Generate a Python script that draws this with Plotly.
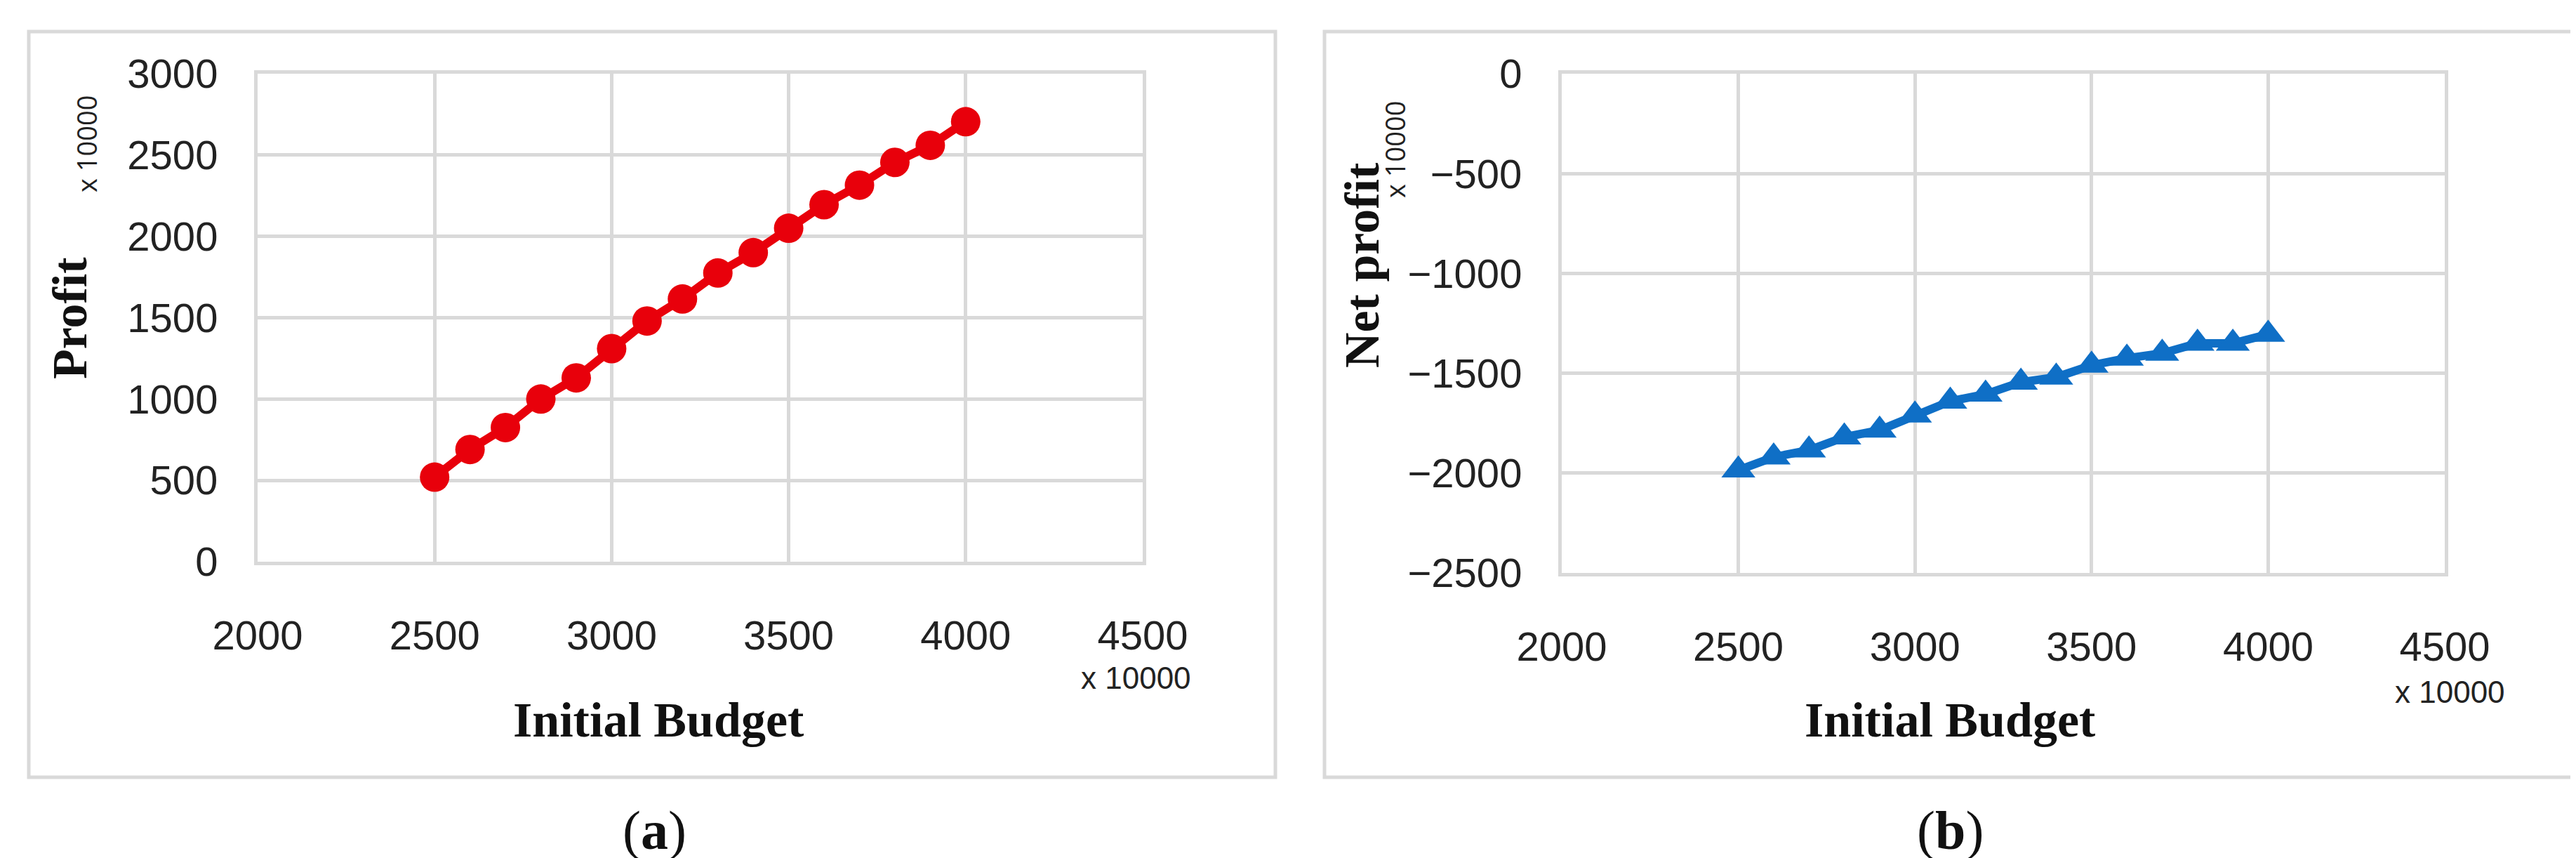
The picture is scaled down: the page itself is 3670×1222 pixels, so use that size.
import plotly.graph_objects as go

W, H = 3670, 1222

budget = [2500, 2600, 2700, 2800, 2900, 3000, 3100, 3200, 3300, 3400,
          3500, 3600, 3700, 3800, 3900, 4000]
profit = [520, 690, 825, 1000, 1130, 1310, 1480, 1615, 1775, 1900,
          2050, 2195, 2315, 2455, 2560, 2705]
net_profit = [-1985, -1920, -1885, -1820, -1785, -1710, -1640, -1605, -1545, -1520,
              -1460, -1425, -1400, -1350, -1350, -1305]

TICK_FONT = dict(family="Liberation Sans Narrow, Arial Narrow, sans-serif", size=58, color="#222")
TITLE_FONT = dict(family="Liberation Serif, DejaVu Serif, serif", size=70, color="#111")
GRID = "#d9d9d9"


def px_x(p):
    return p / W


def px_y(p):
    return 1 - p / H


fig = go.Figure()
fig.add_trace(go.Scatter(
    x=budget, y=profit, mode="lines+markers", xaxis="x", yaxis="y",
    line=dict(color="#e8000b", width=12),
    marker=dict(symbol="circle", size=42, color="#e8000b"),
    showlegend=False))
fig.add_trace(go.Scatter(
    x=budget, y=net_profit, mode="lines+markers", xaxis="x2", yaxis="y2",
    line=dict(color="#0f6fc6", width=12),
    marker=dict(symbol="triangle-up", size=42, color="#0f6fc6"),
    showlegend=False))

axis_common = dict(showgrid=True, gridcolor=GRID, gridwidth=5, zeroline=False,
                   showline=True, linecolor=GRID, linewidth=5, mirror=True,
                   tickfont=TICK_FONT, ticks="", dtick=500, automargin=False)

fig.update_layout(
    width=W, height=H, margin=dict(l=0, r=0, t=0, b=0),
    paper_bgcolor="white", plot_bgcolor="white",
    xaxis=dict(domain=[px_x(359), px_x(1620)], range=[2000, 4500], anchor="y",
               ticklabelstandoff=50, **axis_common),
    yaxis=dict(domain=[px_y(792), px_y(97)], range=[0, 3000], anchor="x",
               ticklabelstandoff=40, **axis_common),
    xaxis2=dict(domain=[px_x(2217), px_x(3475)], range=[2000, 4500], anchor="y2",
                ticklabelstandoff=50, **axis_common),
    yaxis2=dict(domain=[px_y(808), px_y(97)], range=[-2500, 0], anchor="x2",
                ticklabelstandoff=40, **axis_common),
)

# panel frames
for x0, x1 in [(33, 1809), (1879, 3664)]:
    fig.add_shape(type="rect", xref="paper", yref="paper",
                  x0=px_x(x0), x1=px_x(x1), y0=px_y(1099), y1=px_y(37),
                  line=dict(color="#d9d9d9", width=5), layer="below")

small = dict(family="Open Sans, DejaVu Sans, sans-serif", size=38, color="#222")
narrow_small = dict(family="Liberation Sans Narrow, sans-serif", size=44, color="#222")
notes = [
    (930, 1017, "<b>Initial Budget</b>", TITLE_FONT, 0),
    (2770, 1017, "<b>Initial Budget</b>", TITLE_FONT, 0),
    (92, 445, "<b>Profit</b>", TITLE_FONT, -90),
    (1932, 370, "<b>Net profit</b>", TITLE_FONT, -90),
    (115, 197, "x 10000", small, -90),
    (1979, 205, "x 10000", small, -90),
    (1610, 957, "x 10000", narrow_small, 0),
    (3482, 977, "x 10000", narrow_small, 0),
    (924, 1174, "(<b>a</b>)", dict(TITLE_FONT, size=78), 0),
    (2770, 1174, "(<b>b</b>)", dict(TITLE_FONT, size=78), 0),
]
for x, y, t, f, ang in notes:
    fig.add_annotation(xref="paper", yref="paper", x=px_x(x), y=px_y(y), text=t,
                       showarrow=False, font=f, textangle=ang,
                       xanchor="center", yanchor="middle")

fig.write_html("out.html")
